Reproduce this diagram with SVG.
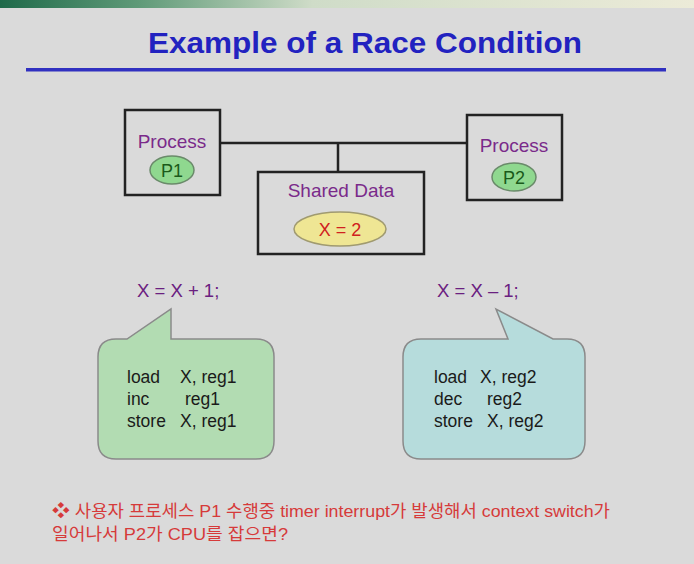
<svg xmlns="http://www.w3.org/2000/svg" width="694" height="564" viewBox="0 0 694 564">
<defs>
<linearGradient id="band" x1="0" y1="0" x2="1" y2="0">
<stop offset="0" stop-color="#1f6a4a"/>
<stop offset="0.2" stop-color="#5f9a78"/>
<stop offset="0.45" stop-color="#cfdcc8"/>
<stop offset="1" stop-color="#ecebd8"/>
</linearGradient>
<style>
.box{fill:none;stroke:#222;stroke-width:2.5}
.lbl{font-family:"Liberation Sans",Arial,sans-serif;font-size:19px;fill:#7a2a8a;text-anchor:middle}
.code{font-family:"Liberation Sans",Arial,sans-serif;font-size:17.5px;fill:#1a1a1a}
.expr{font-family:"Liberation Sans",Arial,sans-serif;font-size:18.5px;fill:#6a2080}
.pill{fill:#8fd88f;stroke:#6a8a6a;stroke-width:1.5}
.ptext{font-family:"Liberation Sans",Arial,sans-serif;font-size:18px;fill:#1a5a1a;text-anchor:middle}
.note{font-family:"Liberation Sans","Noto Sans CJK KR",sans-serif;font-size:17px;fill:#d63a3a}
.conn{fill:none;stroke:#222;stroke-width:2.5}
</style>
</defs>
<rect width="694" height="564" fill="#dadada"/>
<rect width="694" height="8" fill="url(#band)"/>
<text x="365" y="53" text-anchor="middle" font-family="Liberation Sans,Arial,sans-serif" font-weight="bold" font-size="29" fill="#2222c0" textLength="434" lengthAdjust="spacingAndGlyphs">Example of a Race Condition</text>
<rect x="26" y="68" width="640" height="3.5" fill="#3030c0"/>

<g id="connectors">
<path class="conn" d="M220 143 H467 M338 143 V172"/>
</g>

<g id="p1">
<rect class="box" x="125" y="110" width="95" height="85"/>
<text class="lbl" x="172" y="148">Process</text>
<ellipse class="pill" cx="172" cy="170" rx="22" ry="14"/>
<text class="ptext" x="172" y="176.5">P1</text>
</g>

<g id="p2">
<rect class="box" x="467" y="115" width="95" height="85"/>
<text class="lbl" x="514" y="152">Process</text>
<ellipse class="pill" cx="514" cy="177" rx="22" ry="14"/>
<text class="ptext" x="514" y="183.5">P2</text>
</g>

<g id="shared">
<rect class="box" x="258" y="172" width="166" height="82"/>
<text class="lbl" x="341" y="197">Shared Data</text>
<ellipse cx="340" cy="229" rx="46" ry="17" fill="#efe694" stroke="#a09a70" stroke-width="1.5"/>
<text x="340" y="235.5" text-anchor="middle" font-family="Liberation Sans,Arial,sans-serif" font-size="18" fill="#d02020">X = 2</text>
</g>

<g id="expr1">
<text class="expr" x="137" y="297">X = X + 1;</text>
</g>
<g id="expr2">
<text class="expr" x="437" y="297">X = X – 1;</text>
</g>

<g id="callout1">
<path d="M116 339 H127 L171 309 V339 H256 Q274 339 274 357 V441 Q274 459 256 459 H116 Q98 459 98 441 V357 Q98 339 116 339 Z" fill="#b2dcb2" stroke="#8a8a8a" stroke-width="1.5"/>
<text class="code" x="127" y="383">load</text><text class="code" x="180" y="383">X, reg1</text>
<text class="code" x="127" y="405">inc</text><text class="code" x="185" y="405">reg1</text>
<text class="code" x="127" y="427">store</text><text class="code" x="180" y="427">X, reg1</text>
</g>

<g id="callout2">
<path d="M421 339 H508 L496 309 L553 339 H567 Q585 339 585 357 V441 Q585 459 567 459 H421 Q403 459 403 441 V357 Q403 339 421 339 Z" fill="#b6dcdc" stroke="#8a8a8a" stroke-width="1.5"/>
<text class="code" x="434" y="383">load</text><text class="code" x="480" y="383">X, reg2</text>
<text class="code" x="434" y="405">dec</text><text class="code" x="487" y="405">reg2</text>
<text class="code" x="434" y="427">store</text><text class="code" x="487" y="427">X, reg2</text>
</g>

<g id="note">
<text class="note" x="52" y="517" textLength="558" lengthAdjust="spacingAndGlyphs">❖ 사용자 프로세스 P1 수행중 timer interrupt가 발생해서 context switch가</text>
<text class="note" x="52" y="540" textLength="236" lengthAdjust="spacingAndGlyphs">일어나서 P2가 CPU를 잡으면?</text>
</g>
</svg>
